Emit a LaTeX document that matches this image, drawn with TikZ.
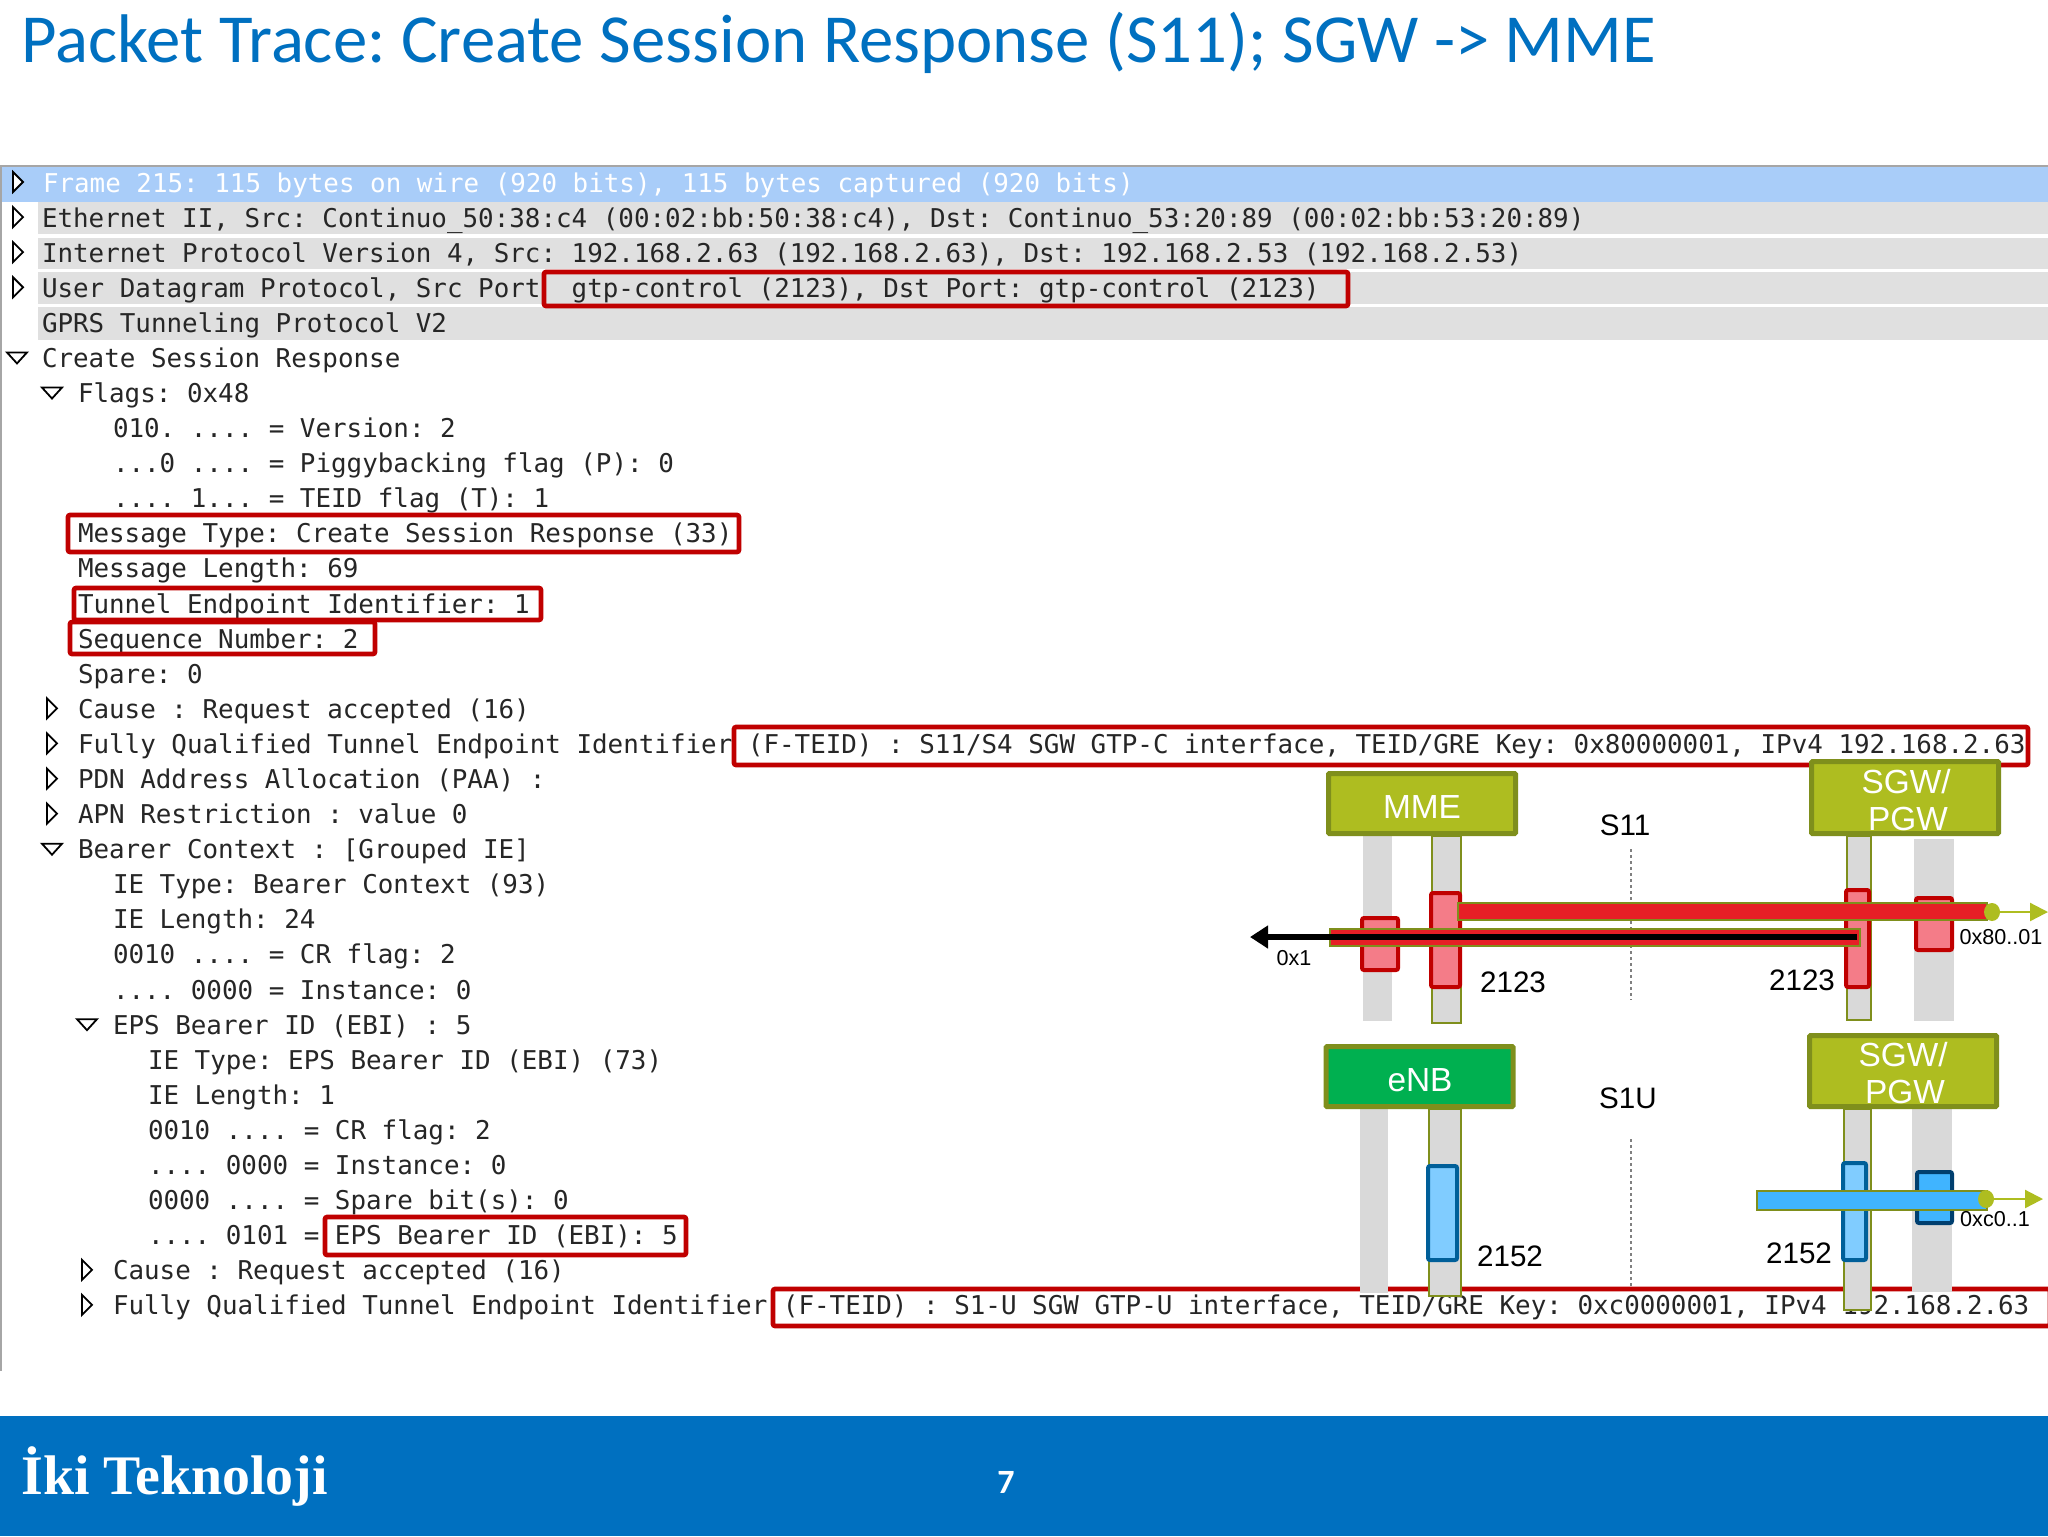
\documentclass[tikz,border=0pt]{standalone}
\usepackage{fontspec}
\setmainfont{Liberation Sans}
\newfontfamily\monof{DejaVu Sans Mono}
\newfontfamily\titlef{Carlito}
\newfontfamily\footf{Liberation Serif}
\usetikzlibrary{arrows.meta,shapes.geometric}
\definecolor{blueC}{HTML}{0070C0}
\definecolor{selC}{HTML}{A9CDF9}
\definecolor{rowC}{HTML}{E0E0E0}
\definecolor{redC}{HTML}{C00000}
\definecolor{barC}{HTML}{D9D9D9}
\definecolor{oliveC}{HTML}{7F8F1C}
\definecolor{limeC}{HTML}{AEBD20}
\definecolor{enbC}{HTML}{00B050}
\definecolor{pinkC}{HTML}{F47C88}
\definecolor{tubeR}{HTML}{E61F26}
\definecolor{tubeB}{HTML}{40B4FF}
\definecolor{lblue}{HTML}{80CCFF}
\definecolor{dblue}{HTML}{005F99}
\definecolor{nblue}{HTML}{003F6F}
\definecolor{txtC}{HTML}{262626}
\frenchspacing
\tikzset{
  rowtext/.style={anchor=base west,inner sep=0pt,outer sep=0pt,text=txtC,font=\monof\fontsize{12.94}{14}\selectfont},
  redbox/.style={draw=redC,line width=2.3pt,rounded corners=1pt},
  modbox/.style={draw=oliveC,fill=limeC,line width=2.5pt,rounded corners=0.5pt,inner sep=0pt},
  enbbox/.style={modbox,fill=enbC},
  boxtext/.style={anchor=base,inner sep=0pt,text=white,font=\fontsize{16.7}{18.5}\selectfont},
  graybar/.style={fill=barC},
  olivebar/.style={fill=barC,draw=oliveC,line width=1pt},
  redport/.style={fill=pinkC,draw=redC,line width=2pt,rounded corners=1pt},
  blueport/.style={fill=lblue,draw=dblue,line width=2pt,rounded corners=1pt},
  blueportd/.style={fill=tubeB,draw=nblue,line width=2pt,rounded corners=1pt},
  tube/.style={draw=oliveC,line width=1.2pt},
  lab/.style={inner sep=0pt,text=black,font=\fontsize{14.8}{16}\selectfont},
  slab/.style={inner sep=0pt,text=black,font=\fontsize{10.8}{13}\selectfont},
  endcap/.style={ellipse,fill=limeC,inner sep=0pt,minimum width=8pt,minimum height=9pt},
  oarrow/.style={draw=limeC,line width=1.1pt,-{Triangle[length=9pt,width=9pt]}},
  dotline/.style={draw=gray,line width=0.7pt,dash pattern=on 1.5pt off 1.5pt},
  rtri/.style={draw=black,fill=white,line width=0.9pt,line join=miter},
}
\newcommand{\rowy}[1]{192+35.09*#1}
\newcommand{\trow}[3]{\node[rowtext] (r#1) at (#2,{\rowy{#1}}) {#3};}
\newcommand{\tright}[2]{\draw[rtri] (#1-5,{\rowy{#2}-20}) -- (#1+5,{\rowy{#2}-10}) -- (#1-5,{\rowy{#2}}) -- cycle;}
\newcommand{\tdown}[2]{\draw[rtri] (#1-10,{\rowy{#2}-15}) -- (#1+10,{\rowy{#2}-15}) -- (#1,{\rowy{#2}-4}) -- cycle;}
\begin{document}
\frenchspacing
\begin{tikzpicture}[x=0.5pt,y=-0.5pt]
\useasboundingbox (0,0) rectangle (2048,1536);
\fill[white] (0,0) rectangle (2048,1536);
% title
\node[anchor=base west,inner sep=0pt,text=blueC,font=\titlef\fontsize{34.4}{38}\selectfont] (title) at (21,63) {Packet Trace: Create Session Response (S11); SGW -> MME};
% list backgrounds
\draw[gray!70,line width=1pt] (0,166) -- (2048,166);
\draw[gray!70,line width=1pt] (1,166) -- (1,1371);
\fill[selC] (2,167) rectangle (2048,202);
\fill[rowC] (38,202) rectangle (2048,234);
\fill[rowC] (38,238) rectangle (2048,269);
\fill[rowC] (38,272) rectangle (2048,304);
\fill[rowC] (38,307) rectangle (2048,340);
% rows
\node[rowtext,text=white] (r0) at (43,{\rowy{0}}) {Frame 215: 115 bytes on wire (920 bits), 115 bytes captured (920 bits)};
\trow{1}{42}{Ethernet II, Src: Continuo\_50:38:c4 (00:02:bb:50:38:c4), Dst: Continuo\_53:20:89 (00:02:bb:53:20:89)}
\trow{2}{42}{Internet Protocol Version 4, Src: 192.168.2.63 (192.168.2.63), Dst: 192.168.2.53 (192.168.2.53)}
\trow{3}{42}{User Datagram Protocol, Src Port\ \ gtp-control (2123), Dst Port: gtp-control (2123)}
\trow{4}{42}{GPRS Tunneling Protocol V2}
\trow{5}{42}{Create Session Response}
\trow{6}{78}{Flags: 0x48}
\trow{7}{113}{010. .... = Version: 2}
\trow{8}{113}{...0 .... = Piggybacking flag (P): 0}
\trow{9}{113}{.... 1... = TEID flag (T): 1}
\trow{10}{78}{Message Type: Create Session Response (33)}
\trow{11}{78}{Message Length: 69}
\trow{12}{78}{Tunnel Endpoint Identifier: 1}
\trow{13}{78}{Sequence Number: 2}
\trow{14}{78}{Spare: 0}
\trow{15}{78}{Cause : Request accepted (16)}
\trow{16}{78}{Fully Qualified Tunnel Endpoint Identifier (F-TEID) : S11/S4 SGW GTP-C interface, TEID/GRE Key: 0x80000001, IPv4 192.168.2.63}
\trow{17}{78}{PDN Address Allocation (PAA) :}
\trow{18}{78}{APN Restriction : value 0}
\trow{19}{78}{Bearer Context : [Grouped IE]}
\trow{20}{113}{IE Type: Bearer Context (93)}
\trow{21}{113}{IE Length: 24}
\trow{22}{113}{0010 .... = CR flag: 2}
\trow{23}{113}{.... 0000 = Instance: 0}
\trow{24}{113}{EPS Bearer ID (EBI) : 5}
\trow{25}{148}{IE Type: EPS Bearer ID (EBI) (73)}
\trow{26}{148}{IE Length: 1}
\trow{27}{148}{0010 .... = CR flag: 2}
\trow{28}{148}{.... 0000 = Instance: 0}
\trow{29}{148}{0000 .... = Spare bit(s): 0}
\trow{30}{148}{.... 0101 = EPS Bearer ID (EBI): 5}
\trow{31}{113}{Cause : Request accepted (16)}
\trow{32}{113}{Fully Qualified Tunnel Endpoint Identifier (F-TEID) : S1-U SGW GTP-U interface, TEID/GRE Key: 0xc0000001, IPv4 192.168.2.63}
% expanders
\tright{18}{0}\tright{18}{1}\tright{18}{2}\tright{18}{3}
\tdown{17}{5}\tdown{52}{6}
\tright{52}{15}\tright{52}{16}\tright{52}{17}\tright{52}{18}
\tdown{52}{19}\tdown{87}{24}
\tright{87}{31}\tright{87}{32}
% red highlight boxes
\draw[redbox] (544,272) rectangle (1348,306);
\draw[redbox] (68,515) rectangle (739,552);
\draw[redbox] (74,588) rectangle (541,620);
\draw[redbox] (70,622) rectangle (375,654);
\draw[redbox] (734,727) rectangle (2028,765);
\draw[redbox] (325,1217) rectangle (686,1255);
\draw[redbox] (773,1289) rectangle (2050,1326);
% S11 diagram
\fill[graybar] (1363,833) rectangle (1392,1021);
\draw[olivebar] (1432,836) rectangle (1461,1023);
\draw[olivebar] (1847,836) rectangle (1871,1020);
\fill[graybar] (1914,839) rectangle (1954,1021);
\draw[dotline] (1631,849) -- (1631,1000);
\node[modbox,minimum width=93.5pt,minimum height=30pt] (mme) at (1422,803.5) {};
\node[boxtext] (mmeT) at (1422,818) {MME};
\node[modbox,minimum width=93.5pt,minimum height=36pt] (sgwa) at (1905,797.5) {};
\node[boxtext] (sgwaT) at (1906,793) {SGW/};
\node[boxtext] (pgwaT) at (1908,830) {PGW};
\draw[redport] (1362,918) rectangle (1398,970);
\draw[redport] (1431,893) rectangle (1460,987);
\draw[redport] (1846,890) rectangle (1869,987);
\draw[redport] (1916,898) rectangle (1952,950);
\draw[tube,fill=tubeR] (1458,903) rectangle (1987,920);
\draw[tube,fill=tubeR] (1330,929) rectangle (1860,946);
\node[endcap] (capa) at (1992,912) {};
\coordinate (freea) at (2048,912);
\draw[oarrow] (capa.east) -- (freea);
\coordinate (tubeL) at (1857,937);
\coordinate (freel) at (1250,937);
\draw[black,line width=3pt,-{Triangle[length=9pt,width=11pt]}] (tubeL) -- (freel);
\node[lab] (ls11) at (1625,825) {S11};
\node[lab] (p1) at (1513,982) {2123};
\node[lab] (p2) at (1802,980) {2123};
\node[slab] (t1) at (1294,958) {0x1};
\node[slab] (t2) at (2001,937) {0x80..01};
% S1U diagram
\fill[graybar] (1360,1107) rectangle (1388,1293);
\draw[olivebar] (1429,1109) rectangle (1461,1296);
\draw[olivebar] (1844,1109) rectangle (1871,1310);
\fill[graybar] (1912,1109) rectangle (1952,1292);
\draw[dotline] (1631,1139) -- (1631,1288);
\node[enbbox,minimum width=93.5pt,minimum height=30pt] (enb) at (1419.5,1076.5) {};
\node[boxtext] (enbT) at (1420,1091) {eNB};
\node[modbox,minimum width=93.5pt,minimum height=35.5pt] (sgwb) at (1903,1071) {};
\node[boxtext] (sgwbT) at (1903,1066) {SGW/};
\node[boxtext] (pgwbT) at (1905,1103) {PGW};
\draw[blueport] (1428,1166) rectangle (1457,1260);
\draw[blueport] (1843,1163) rectangle (1866,1260);
\draw[blueportd] (1917,1172) rectangle (1952,1223);
\draw[tube,fill=tubeB] (1757,1191) rectangle (1987,1210);
\node[endcap] (capb) at (1986,1199) {};
\coordinate (freeb) at (2043,1199);
\draw[oarrow] (capb.east) -- (freeb);
\node[lab] (ls1u) at (1628,1098) {S1U};
\node[lab] (p3) at (1510,1256) {2152};
\node[lab] (p4) at (1799,1253) {2152};
\node[slab] (t3) at (1995,1219) {0xc0..1};
% footer
\fill[blueC] (0,1416) rectangle (2048,1536);
\node[anchor=base west,inner sep=0pt,text=white,font=\footf\bfseries\fontsize{27.9}{30}\selectfont] (foot) at (21,1494) {İki Teknoloji};
\node[anchor=base,inner sep=0pt,text=white,font=\titlef\bfseries\fontsize{17}{20}\selectfont] (page) at (1006,1493) {7};
\end{tikzpicture}
\end{document}
